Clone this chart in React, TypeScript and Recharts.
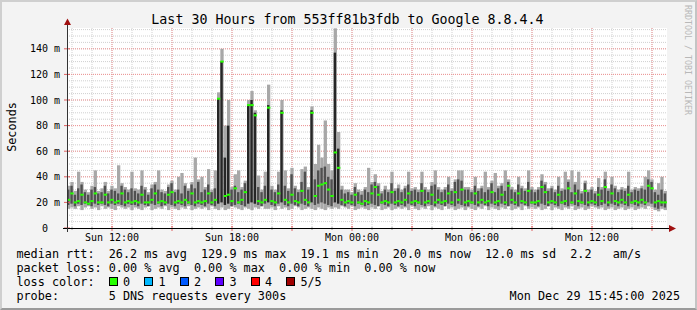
import React from 'react';
import { ComposedChart, Bar, Line, XAxis, YAxis, CartesianGrid, Cell } from 'recharts';

// SmokePing-style latency, 10 minute bins from Sun 09:45 to Mon 15:45 (values in ms)
const medianRtt = [
  22, 27, 20, 21, 26, 20, 19, 21, 27, 20, 20, 26, 20, 22, 20, 21, 27, 20, 21, 20,
  21, 20, 26, 20, 20, 22, 27, 20, 21, 20, 26, 28, 20, 21, 20, 22, 20, 27, 20, 21,
  20, 21, 27, 20, 22, 101, 130, 25, 26, 21, 31, 20, 22, 28, 96, 96, 88, 21, 20, 22,
  94, 21, 20, 27, 90, 22, 20, 26, 21, 20, 29, 22, 20, 90, 25, 33, 34, 35, 30, 25,
  59, 47, 22, 20, 21, 20, 26, 20, 19, 21, 20, 27, 32, 26, 20, 21, 20, 28, 20, 21,
  20, 22, 27, 20, 21, 20, 29, 20, 21, 26, 20, 22, 20, 21, 27, 20, 28, 22, 30, 20,
  21, 20, 27, 20, 22, 20, 21, 28, 20, 21, 26, 20, 33, 22, 20, 27, 21, 20, 29, 20,
  20, 21, 32, 28, 20, 21, 20, 26, 20, 21, 31, 20, 27, 21, 20, 29, 20, 21, 20, 26,
  21, 32, 20, 27, 21, 20, 22, 20, 26, 20, 21, 20, 22, 20, 33, 31, 20, 21, 20, 20,
];

// inner (dark) smoke band
const darkLow = [
  18, 19, 17, 19, 18, 19, 18, 17, 19, 18, 19, 18, 17, 19, 18, 19, 18, 17, 19, 18,
  18, 17, 19, 18, 17, 19, 18, 19, 17, 18, 19, 18, 17, 19, 18, 17, 19, 18, 17, 19,
  18, 17, 19, 18, 17, 19, 20, 18, 19, 17, 18, 19, 18, 17, 19, 20, 19, 18, 17, 19,
  20, 18, 17, 19, 20, 18, 17, 19, 18, 17, 19, 18, 17, 20, 18, 19, 20, 19, 18, 17,
  20, 19, 18, 17, 19, 18, 17, 19, 18, 17, 18, 19, 18, 17, 19, 18, 17, 19, 18, 17,
  18, 17, 19, 18, 17, 19, 18, 17, 19, 18, 17, 19, 18, 17, 19, 18, 17, 19, 18, 17,
  17, 19, 18, 17, 19, 18, 17, 19, 18, 17, 19, 18, 17, 19, 18, 17, 19, 18, 17, 19,
  18, 17, 19, 18, 17, 19, 18, 17, 19, 18, 17, 19, 18, 17, 19, 18, 17, 19, 18, 17,
  18, 19, 17, 19, 18, 17, 19, 18, 17, 19, 18, 17, 19, 18, 20, 19, 16, 15, 17, 16,
];
const darkHigh = [
  30, 33, 26, 31, 34, 28, 26, 30, 32, 27, 28, 33, 27, 30, 29, 27, 33, 30, 28, 31,
  29, 27, 33, 30, 26, 31, 34, 30, 28, 27, 32, 35, 28, 30, 27, 33, 29, 34, 31, 36,
  28, 30, 34, 28, 31, 101, 130, 55, 80, 30, 33, 28, 30, 35, 96, 100, 90, 32, 28, 33,
  96, 30, 28, 34, 92, 33, 29, 42, 31, 28, 36, 44, 30, 92, 38, 45, 47, 48, 40, 38,
  137, 62, 30, 27, 28, 26, 32, 28, 26, 30, 28, 34, 36, 33, 27, 30, 28, 35, 29, 31,
  28, 31, 34, 29, 30, 28, 35, 30, 28, 33, 34, 30, 28, 30, 34, 29, 36, 38, 37, 30,
  30, 28, 33, 29, 31, 28, 30, 35, 28, 31, 33, 29, 36, 30, 28, 34, 31, 29, 36, 30,
  28, 30, 37, 34, 29, 31, 28, 33, 29, 30, 36, 28, 34, 30, 27, 35, 28, 30, 27, 32,
  30, 38, 29, 34, 31, 28, 30, 29, 33, 28, 30, 29, 31, 30, 38, 36, 28, 26, 30, 27,
];

// outer (light) smoke band
const lightLow = [
  15, 16, 15, 17, 14, 16, 17, 15, 16, 14, 17, 15, 16, 15, 14, 17, 16, 15, 16, 14,
  16, 15, 14, 16, 17, 14, 15, 16, 15, 17, 14, 16, 15, 14, 16, 15, 17, 14, 15, 16,
  15, 16, 14, 17, 15, 14, 16, 14, 15, 17, 16, 15, 14, 16, 15, 14, 16, 15, 17, 15,
  15, 16, 14, 17, 15, 16, 14, 15, 17, 16, 14, 15, 16, 15, 14, 16, 15, 14, 16, 15,
  16, 15, 17, 16, 15, 17, 14, 15, 16, 15, 14, 16, 15, 17, 14, 15, 16, 14, 15, 16,
  15, 16, 14, 17, 15, 14, 16, 15, 17, 14, 16, 15, 14, 17, 15, 16, 14, 15, 16, 14,
  16, 15, 14, 16, 15, 17, 14, 16, 15, 14, 16, 15, 17, 14, 15, 16, 14, 17, 15, 16,
  15, 16, 14, 15, 17, 14, 16, 15, 14, 16, 15, 17, 14, 15, 16, 14, 15, 17, 16, 15,
  16, 14, 15, 16, 14, 15, 16, 14, 15, 16, 14, 15, 16, 15, 17, 16, 14, 13, 15, 14,
];
const lightHigh = [
  33, 36, 29, 44, 36, 30, 28, 33, 45, 29, 31, 36, 29, 33, 31, 49, 35, 32, 30, 44,
  31, 30, 45, 32, 28, 34, 36, 45, 30, 29, 34, 37, 30, 40, 43, 35, 31, 36, 55, 38,
  40, 32, 46, 30, 45, 106, 140, 80, 100, 32, 42, 45, 32, 37, 100, 107, 92, 41, 30, 44,
  112, 33, 30, 44, 100, 45, 31, 47, 33, 30, 46, 48, 32, 95, 50, 65, 55, 84, 50, 45,
  156, 75, 33, 30, 30, 28, 35, 30, 29, 32, 47, 36, 42, 35, 29, 33, 30, 44, 31, 34,
  30, 33, 44, 31, 32, 30, 44, 32, 30, 36, 45, 32, 30, 32, 40, 31, 38, 45, 45, 32,
  32, 30, 40, 31, 33, 44, 32, 37, 43, 33, 35, 45, 38, 32, 30, 40, 33, 31, 45, 32,
  30, 32, 42, 36, 31, 33, 30, 40, 31, 44, 38, 45, 36, 44, 29, 37, 30, 32, 29, 39,
  32, 44, 31, 40, 33, 30, 32, 31, 44, 30, 32, 31, 33, 40, 45, 38, 30, 35, 40, 29,
];

// time axis, minutes after Sun 09:45
const hourTicks = [
  15, 75, 135, 195, 255, 315, 375, 435, 495, 555, 615, 675, 735, 795, 855,
  915, 975, 1035, 1095, 1155, 1215, 1275, 1335, 1395, 1455, 1515, 1575, 1635, 1695, 1755,
];
const majorTicks = [135, 315, 495, 675, 855, 1035, 1215, 1395, 1575, 1755];
const labelTicks = [135, 495, 855, 1215, 1575];
const labelNames = ['Sun 12:00', 'Sun 18:00', 'Mon 00:00', 'Mon 06:00', 'Mon 12:00'];

const yTicks = [0, 20, 40, 60, 80, 100, 120, 140];
const yMinor = [
  5, 10, 15, 20, 25, 30, 35, 40, 45, 50, 55, 60, 65, 70, 75, 80,
  85, 90, 95, 100, 105, 110, 115, 120, 125, 130, 135, 140, 145, 150, 155,
];

const lossColors = ['#26ff00', '#00b8ff', '#0059ff', '#5e00ff', '#ff0000', '#a00000'];
const lossNames = ['0', '1', '2', '3', '4', '5/5'];

const FONT = '"DejaVu Sans Mono", monospace';
const CH = 7.1; // legend character advance
const col = (n: number) => 16.4 + n * CH;

const rows = medianRtt.map((m, i) => ({
  i,
  t: i * 10 + 5,
  light: [lightLow[i], lightHigh[i]],
  dark: [darkLow[i], darkHigh[i]],
  med: m,
}));

function TimeTick(props: any) {
  const { x, payload } = props;
  const t = payload.value;
  const major = majorTicks.includes(t);
  const li = labelTicks.indexOf(t);
  return (
    <g>
      <line
        x1={x}
        x2={x}
        y1={major ? 226 : 227}
        y2={major ? 231 : 230}
        stroke={major ? '#e06060' : '#9a9a9a'}
      />
      {li >= 0 && (
        <text x={x} y={241} textAnchor="middle" fontFamily={FONT} fontSize={10} fill="#000">
          {labelNames[li]}
        </text>
      )}
    </g>
  );
}

function ValueTick(props: any) {
  const { y, payload } = props;
  const v = payload.value;
  return (
    <g>
      <line x1={64} x2={70} y1={y} y2={y} stroke="#e06060" />
      <text
        x={v === 0 ? 48 : 60}
        y={y + 3.5}
        textAnchor="end"
        fontFamily={FONT}
        fontSize={10}
        fill="#000"
      >
        {v === 0 ? '0' : `${v} m`}
      </text>
    </g>
  );
}

const medDot = (p: any) => (
  <rect key={`m${p.index}`} x={p.cx - 1.7} y={p.cy - 1} width={3.4} height={2} fill="#26ff00" />
);

export default function App() {
  return (
    <div
      style={{
        position: 'absolute',
        left: 0,
        top: 0,
        width: 697,
        height: 310,
        background: '#f3f3f3',
        overflow: 'hidden',
      }}
    >
      <div style={{ position: 'absolute', left: 67, top: 28, width: 600, height: 200, background: '#fff' }} />
      <div style={{ position: 'absolute', left: 0, top: 0 }}>
        <ComposedChart
          width={697}
          height={310}
          data={rows}
          margin={{ top: 28, right: 30, bottom: 62, left: 7 }}
        >
          <CartesianGrid
            xAxisId="time"
            horizontalValues={yMinor}
            verticalValues={hourTicks}
            stroke="#d0d0d0"
            strokeDasharray="1 1"
          />
          <CartesianGrid
            xAxisId="time"
            horizontalValues={yTicks.slice(1)}
            verticalValues={majorTicks}
            stroke="#f09494"
            strokeDasharray="1 1"
          />
          <XAxis xAxisId="cat" dataKey="i" type="category" hide />
          <XAxis xAxisId="cat2" dataKey="i" type="category" hide />
          <XAxis
            xAxisId="time"
            dataKey="t"
            type="number"
            domain={[0, 1800]}
            allowDataOverflow
            ticks={hourTicks}
            interval={0}
            height={20}
            axisLine={false}
            tickLine={false}
            tick={(p: any) => <TimeTick {...p} />}
          />
          <YAxis
            type="number"
            domain={[0, 156.25]}
            allowDataOverflow
            ticks={yTicks}
            interval={0}
            width={60}
            axisLine={false}
            tickLine={false}
            tick={(p: any) => <ValueTick {...p} />}
          />
          <Bar xAxisId="cat" dataKey="light" fill="#a8a8a8" barSize={3.3} isAnimationActive={false} />
          <Bar xAxisId="cat2" dataKey="dark" fill="#505050" barSize={2.4} isAnimationActive={false}>
            {rows.map((r) => (
              <Cell key={r.i} fill={r.dark[1] - r.dark[0] > 30 ? '#262626' : '#505050'} />
            ))}
          </Bar>
          <Line
            xAxisId="time"
            dataKey="med"
            stroke="none"
            dot={medDot}
            activeDot={false}
            isAnimationActive={false}
          />
        </ComposedChart>
      </div>
      <svg
        width={697}
        height={310}
        style={{ position: 'absolute', left: 0, top: 0, pointerEvents: 'none' }}
        fontFamily={FONT}
      >
        {/* axes with arrows */}
        <line x1={63} x2={670} y1={228.5} y2={228.5} stroke="#000" />
        <polygon points="669,225 676,228.5 669,232" fill="#a01010" />
        <line x1={67.5} x2={67.5} y1={232} y2={24} stroke="#333" />
        <polygon points="64,25 67.5,18.5 71,25" fill="#a01010" />

        <text x={347.5} y={24} textAnchor="middle" fontSize={13.3} fill="#000">
          Last 30 Hours from 553ff81b3fdb to Google 8.8.4.4
        </text>
        <text
          transform="translate(15.5,127) rotate(-90)"
          textAnchor="middle"
          fontSize={11.8}
          fill="#000"
        >
          Seconds
        </text>
        <text transform="translate(685,5) rotate(90)" fontSize={8.3} fill="#b8b8b8">
          RRDTOOL / TOBI OETIKER
        </text>

        <g fontSize={11.8} fill="#000">
          <text x={col(0)} y={258}>median rtt:</text>
          <text x={col(13)} y={258}>26.2 ms avg</text>
          <text x={col(26)} y={258}>129.9 ms max</text>
          <text x={col(40)} y={258}>19.1 ms min</text>
          <text x={col(53)} y={258}>20.0 ms now</text>
          <text x={col(66)} y={258}>12.0 ms sd</text>
          <text x={col(78)} y={258}>2.2</text>
          <text x={col(84)} y={258}>am/s</text>

          <text x={col(0)} y={272}>packet loss:</text>
          <text x={col(13)} y={272}>0.00 % avg</text>
          <text x={col(25)} y={272}>0.00 % max</text>
          <text x={col(37)} y={272}>0.00 % min</text>
          <text x={col(49)} y={272}>0.00 % now</text>

          <text x={col(0)} y={286}>loss color:</text>
          {lossNames.map((n, k) => (
            <g key={n}>
              <rect
                x={Math.round(col(13 + k * 5)) + 0.5}
                y={277.5}
                width={8}
                height={8}
                fill={lossColors[k]}
                stroke="#000"
              />
              <text x={col(15 + k * 5)} y={286}>{n}</text>
            </g>
          ))}

          <text x={col(0)} y={300}>probe:</text>
          <text x={col(13)} y={300}>5 DNS requests every 300s</text>
          <text x={680} y={300} textAnchor="end">Mon Dec 29 15:45:00 2025</text>
        </g>
      </svg>
      <div
        style={{
          position: 'absolute',
          left: 0,
          top: 0,
          width: 697,
          height: 310,
          boxSizing: 'border-box',
          borderTop: '2px solid #cfcfcf',
          borderLeft: '2px solid #cfcfcf',
          borderRight: '2px solid #c4c4c4',
          borderBottom: '2px solid #9a9a9a',
          pointerEvents: 'none',
        }}
      />
    </div>
  );
}
